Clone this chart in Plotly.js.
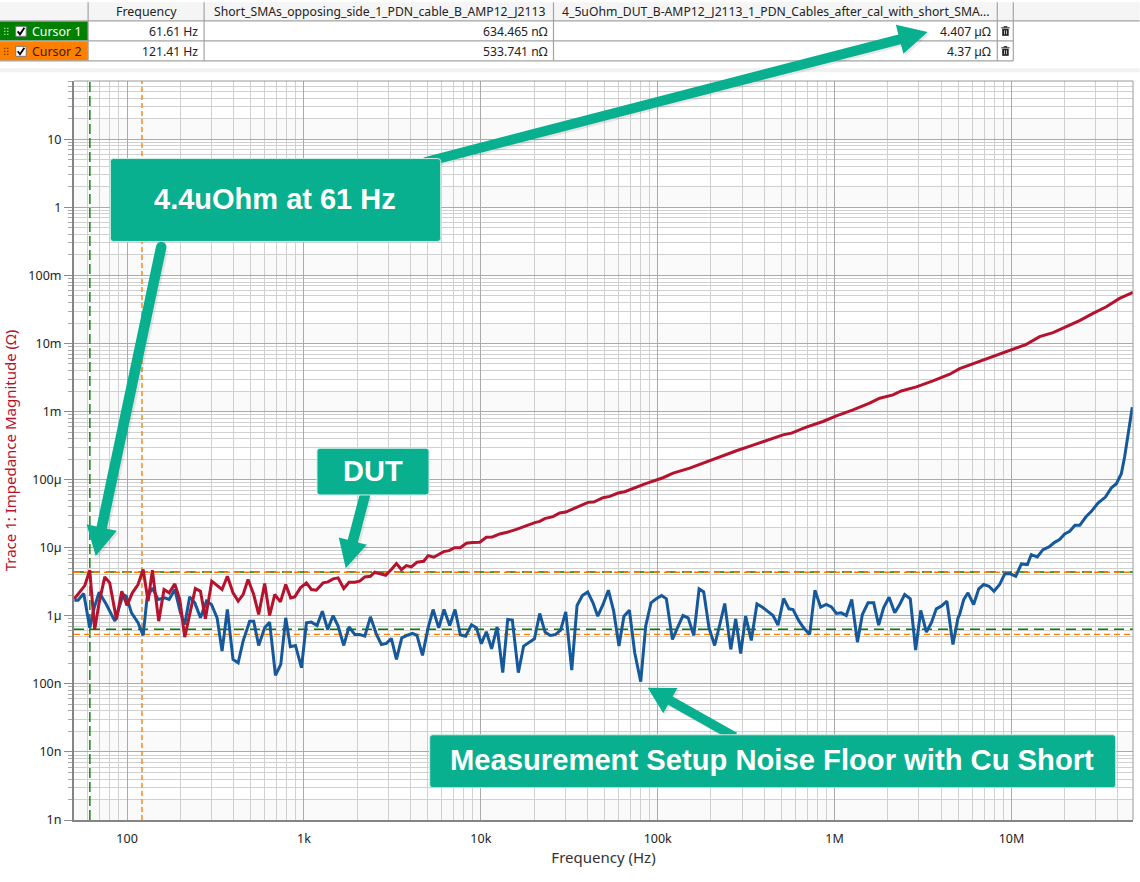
<!DOCTYPE html>
<html><head><meta charset="utf-8">
<script src="https://cdn.plot.ly/plotly-3.0.1.min.js"></script>
<style>html,body{margin:0;padding:0;background:#fff}#chart{width:1140px;height:882px}</style>
</head><body><div id="chart"></div>
<script>
// Values, as log10(Hz) and log10(ohm)
const blueLogHz = [1.702,1.723,1.755,1.789,1.814,1.842,1.883,1.931,1.978,1.996,2.025,2.062,2.091,2.113,2.143,2.175,2.213,2.238,2.270,2.302,2.326,2.354,2.383,2.415,2.449,2.477,2.509,2.537,2.567,2.599,2.628,2.656,2.693,2.716,2.744,2.778,2.806,2.839,2.869,2.897,2.923,2.952,2.986,3.014,3.042,3.074,3.104,3.134,3.165,3.193,3.225,3.255,3.287,3.315,
3.344,3.376,3.410,3.438,3.466,3.494,3.523,3.553,3.583,3.613,3.639,3.670,3.702,3.730,3.762,3.792,3.824,3.854,3.884,3.914,3.947,3.975,4.003,4.031,4.061,4.092,4.124,4.152,4.178,4.212,4.242,4.272,4.303,4.333,4.363,4.393,4.423,4.451,4.480,4.514,4.544,4.574,4.604,4.634,4.661,4.691,4.721,4.751,4.781,4.809,4.840,4.870,4.904,4.932,4.962,4.992,5.022,5.049,5.083,
5.124,5.143,5.172,5.204,5.234,5.260,5.290,5.322,5.351,5.379,5.413,5.441,5.469,5.497,5.529,5.561,5.592,5.624,5.652,5.680,5.712,5.742,5.765,5.799,5.825,5.859,5.889,5.921,5.953,5.982,6.010,6.038,6.066,6.097,6.129,6.157,6.189,6.221,6.249,6.277,6.308,6.340,6.368,6.396,6.428,6.458,6.487,6.519,6.547,6.575,6.603,6.635,6.669,6.698,
6.707,6.730,6.754,6.786,6.815,6.843,6.873,6.901,6.933,6.962,6.990,7.024,7.056,7.090,7.112,7.146,7.178,7.212,7.244,7.272,7.301,7.329,7.359,7.386,7.420,7.452,7.489,7.531,7.565,7.593,7.621,7.640,7.659,7.683];
const blueLogOhm = [-5.771,-5.771,-5.673,-6.177,-5.883,-5.654,-5.834,-6.079,-5.688,-5.712,-5.957,-6.103,-6.289,-5.737,-5.590,-5.761,-5.737,-5.761,-5.614,-5.957,-6.128,-5.722,-5.810,-6.030,-5.785,-5.834,-6.030,-6.519,-5.908,-6.641,-6.690,-6.372,-6.079,-6.079,-6.436,-6.177,-6.093,-6.876,-6.714,-6.030,-6.455,-6.436,-6.763,-6.103,-6.093,-6.142,-5.932,-6.201,-5.996,-6.152,-6.436,-6.162,-6.274,-6.274,
-6.299,-6.015,-6.274,-6.421,-6.406,-6.333,-6.641,-6.323,-6.289,-6.260,-6.289,-6.582,-6.177,-5.908,-6.177,-5.908,-6.142,-5.908,-6.279,-6.299,-6.133,-6.177,-6.411,-6.235,-6.485,-6.162,-6.836,-6.054,-6.064,-6.836,-6.445,-6.397,-6.338,-5.966,-6.240,-6.289,-6.274,-6.211,-5.942,-6.797,-5.849,-5.702,-5.649,-5.810,-6.006,-5.834,-5.624,-5.932,-6.445,-6.006,-5.918,-6.543,-6.968,-6.152,-5.810,-5.751,-5.702,-5.751,-6.348,
-6.103,-5.996,-6.030,-6.289,-5.605,-5.649,-6.177,-6.436,-6.128,-5.820,-6.494,-6.045,-6.553,-6.006,-6.362,-5.825,-5.874,-5.942,-5.996,-6.137,-5.746,-5.898,-5.908,-6.079,-6.177,-6.274,-5.624,-5.874,-5.834,-5.869,-5.966,-5.957,-5.996,-5.761,-6.387,-5.981,-5.810,-5.810,-6.137,-5.883,-5.727,-5.957,-5.834,-5.688,-5.751,-6.504,-5.922,-6.240,-6.103,-5.898,-5.859,-5.786,-6.421,-6.030,
-5.981,-5.761,-5.663,-5.835,-5.605,-5.541,-5.566,-5.639,-5.541,-5.385,-5.380,-5.419,-5.238,-5.248,-5.101,-5.136,-5.028,-4.989,-4.921,-4.881,-4.798,-4.759,-4.671,-4.671,-4.549,-4.466,-4.344,-4.256,-4.119,-4.060,-3.914,-3.659,-3.342,-2.936];
const redLogHz = [1.702,1.733,1.761,1.789,1.817,1.842,1.874,1.902,1.940,1.970,2.000,2.030,2.062,2.091,2.119,2.143,2.179,2.209,2.238,2.270,2.298,2.326,2.358,2.386,2.415,2.443,2.479,2.505,2.537,2.567,2.599,2.628,2.656,2.684,2.716,2.744,2.778,2.806,2.835,2.867,2.897,2.925,2.948,2.980,3.014,3.042,3.070,3.108,3.136,3.165,3.193,3.225,3.255,3.287,3.315,
3.344,3.376,3.400,3.428,3.462,3.494,3.523,3.551,3.579,3.607,3.639,
3.677,3.702,3.734,3.764,3.790,3.820,3.852,3.884,3.918,3.952,3.994,4.031,4.065,4.107,4.148,4.201,4.257,4.305,4.333,4.361,4.408,4.446,4.480,4.531,4.578,4.606,4.638,4.691,4.729,4.776,4.813,4.879,4.936,
5.030,5.087,5.181,5.256,5.350,5.445,5.539,5.614,5.708,5.756,5.840,5.934,6.010,6.104,6.198,
6.255,6.330,6.377,6.462,6.556,6.651,6.707,6.782,6.858,6.933,7.009,7.084,7.159,7.235,7.310,7.385,7.461,7.536,7.611,7.687];
const redLogOhm = [-5.751,-5.654,-5.556,-5.331,-6.201,-5.810,-5.429,-5.517,-6.054,-5.639,-5.849,-5.663,-5.541,-5.321,-5.785,-5.331,-6.079,-5.614,-5.663,-5.531,-5.761,-6.313,-5.932,-5.600,-5.639,-6.045,-5.492,-5.541,-5.614,-5.419,-5.663,-5.785,-5.688,-5.468,-5.688,-5.981,-5.526,-5.996,-5.688,-5.795,-5.541,-5.737,-5.722,-5.590,-5.517,-5.614,-5.624,-5.517,-5.502,-5.458,-5.443,-5.600,-5.507,-5.507,-5.492,
-5.429,-5.419,-5.360,-5.380,-5.404,-5.321,-5.233,-5.321,-5.262,-5.282,-5.214,
-5.199,-5.116,-5.140,-5.101,-5.057,-5.043,-4.999,-4.999,-4.935,-4.925,-4.920,-4.847,-4.842,-4.798,-4.774,-4.730,-4.671,-4.632,-4.613,-4.573,-4.544,-4.490,-4.476,-4.417,-4.368,-4.334,-4.329,-4.266,-4.246,-4.197,-4.178,-4.109,-4.055,
-3.972,-3.904,-3.831,-3.757,-3.660,-3.576,-3.493,-3.430,-3.342,-3.317,-3.229,-3.146,-3.063,-2.975,-2.877,
-2.804,-2.755,-2.697,-2.638,-2.550,-2.452,-2.369,-2.296,-2.227,-2.154,-2.081,-2.012,-1.900,-1.841,-1.753,-1.665,-1.558,-1.460,-1.338,-1.250];

const cursorHz = [61.61, 121.41];
const cursorShortOhm = [634.465e-9, 533.741e-9];
const cursorDutOhm = [4.407e-6, 4.37e-6];

const xTickVals = [100,1e3,1e4,1e5,1e6,1e7];
const xTickText = ['100','1k','10k','100k','1M','10M'];
const yTickVals = [1e-9,1e-8,1e-7,1e-6,1e-5,1e-4,1e-3,1e-2,1e-1,1,10];
const yTickText = ['1n','10n','100n','1µ','10µ','100µ','1m','10m','100m','1','10'];

const tableHeader = ['Frequency','Short_SMAs_opposing_side_1_PDN_cable_B_AMP12_J2113','4_5uOhm_DUT_B-AMP12_J2113_1_PDN_Cables_after_cal_with_short_SMA...'];
const cursorNames = ['Cursor 1','Cursor 2'];
const cursorFreqText = ['61.61 Hz','121.41 Hz'];
const cursorShortText = ['634.465 nΩ','533.741 nΩ'];
const cursorDutText = ['4.407 µΩ','4.37 µΩ'];
const calloutText = ['4.4uOhm at 61 Hz','DUT','Measurement Setup Noise Floor with Cu Short'];

// Layout geometry (page pixels)
const L=74.3,R=1133.3,T=80.7,B=820.3;
const px=X=>(X-L)/(R-L), py=Y=>(B-Y)/(B-T);
const UI='"Noto Sans", sans-serif';
const TEAL='#08b08f', BLUE='#15589b', RED='#b5122e', GREEN='#008000', ORANGE='#ff8000';
const xRange=[1.70,7.687], yRange=[-9,1.856];
const yLo=Math.pow(10,yRange[0]), yHi=Math.pow(10,yRange[1]);
const xLo=Math.pow(10,xRange[0]), xHi=Math.pow(10,xRange[1]);

const p10=a=>a.map(v=>Math.pow(10,v));
function minorVals(lo,hi){const o=[];for(let e=lo;e<=hi;e++)for(let d=2;d<=9;d++)o.push(d*Math.pow(10,e));return o;}

function hline(y,color,dash){return {x:[xLo,xHi],y:[y,y],mode:'lines',line:{color,width:1.4,dash},hoverinfo:'skip',showlegend:false};}
function vline(x,color,dash){return {x:[x,x],y:[yLo,yHi],mode:'lines',line:{color,width:1.4,dash},hoverinfo:'skip',showlegend:false};}
const traces=[
  vline(cursorHz[0],GREEN,'10px,4px'), vline(cursorHz[1],ORANGE,'5px,3px'),
  hline(cursorShortOhm[0],GREEN,'10px,6px'), hline(cursorDutOhm[0],GREEN,'10px,6px'),
  hline(cursorShortOhm[1],ORANGE,'6px,4px'), hline(cursorDutOhm[1],ORANGE,'6px,4px'),
  {name:tableHeader[1],x:p10(blueLogHz),y:p10(blueLogOhm),mode:'lines',line:{color:BLUE,width:3},showlegend:false},
  {name:tableHeader[2],x:p10(redLogHz),y:p10(redLogOhm),mode:'lines',line:{color:RED,width:3},showlegend:false}
];

const shapes=[], annotations=[];
function rectPx(x0,y0,x1,y1,fill,line,lw,layer){shapes.push({type:'rect',xref:'paper',yref:'paper',x0:px(x0),x1:px(x1),y0:py(y0),y1:py(y1),fillcolor:fill||'rgba(0,0,0,0)',line:{color:line||'rgba(0,0,0,0)',width:lw||0},layer:layer||'above'});}
function linePx(x0,y0,x1,y1,c,w){shapes.push({type:'line',xref:'paper',yref:'paper',x0:px(x0),x1:px(x1),y0:py(y0),y1:py(y1),line:{color:c,width:w||1},layer:'above'});}
function pathPx(pts,fill,opts){opts=opts||{};const d=pts.map((p,i)=>(i?'L':'M')+px(p[0]).toFixed(5)+','+py(p[1]).toFixed(5)).join(' ')+(opts.open?'':' Z');
  shapes.push({type:'path',xref:'paper',yref:'paper',path:d,fillcolor:fill||'rgba(0,0,0,0)',opacity:opts.opacity==null?1:opts.opacity,line:{color:opts.line||'rgba(0,0,0,0)',width:opts.lw||0},layer:'above'});}
function roundBox(x0,y0,x1,y1,r,fill,line){const f=(x,y)=>px(x).toFixed(5)+','+py(y).toFixed(5);
  const d=`M${f(x0+r,y0)} L${f(x1-r,y0)} Q${f(x1,y0)} ${f(x1,y0+r)} L${f(x1,y1-r)} Q${f(x1,y1)} ${f(x1-r,y1)} L${f(x0+r,y1)} Q${f(x0,y1)} ${f(x0,y1-r)} L${f(x0,y0+r)} Q${f(x0,y0)} ${f(x0+r,y0)} Z`;
  shapes.push({type:'path',xref:'paper',yref:'paper',path:d,fillcolor:fill,line:{color:line,width:1},layer:'above'});}
function text(t,X,Y,o){o=o||{};annotations.push({text:t,x:px(X),y:py(Y),xref:'paper',yref:'paper',showarrow:false,xanchor:o.a||'center',yanchor:'middle',borderpad:0,
  font:{family:o.f||UI,size:o.s||12,color:o.c||'#222',weight:o.w||'normal'}});}
function arrow(tx,ty,hx,hy,w,hl,hw){
  const len=Math.hypot(hx-tx,hy-ty),ux=(hx-tx)/len,uy=(hy-ty)/len,nx=-uy,ny=ux;
  const bx=hx-ux*hl,by=hy-uy*hl;
  const poly=dx=>[[tx+nx*w/2+dx,ty+ny*w/2+dx],[bx+nx*w/2+dx,by+ny*w/2+dx],[bx+nx*hw/2+dx,by+ny*hw/2+dx],[hx+dx,hy+dx],[bx-nx*hw/2+dx,by-ny*hw/2+dx],[bx-nx*w/2+dx,by-ny*w/2+dx],[tx-nx*w/2+dx,ty-ny*w/2+dx]];
  pathPx(poly(2),'#000',{opacity:.09});
  pathPx(poly(0),TEAL);
}

// 1x-2x bands behind the grid, through the y axis
for(let e=yRange[0];e<=1;e++){
  shapes.push({type:'rect',xref:'paper',yref:'y',x0:0,x1:1,y0:Math.pow(10,e),y1:2*Math.pow(10,e),fillcolor:'#fafafa',line:{width:0},layer:'below'});
}
// plot frame (thin top/right)
linePx(L,T,R,T,'#9a9a9a',1); linePx(R,T,R,B,'#9a9a9a',1);

// ---- cursor table above the plot ----
rectPx(0,2,1140,20.5,'#f5f5f5');
rectPx(0,68,1140,72,'#f1f1f1');
rectPx(0,21,88.4,40.5,GREEN);
rectPx(0,41,88.4,60.5,ORANGE);
const gridC='#a3a3a3';
linePx(0,20.5,1140,20.5,gridC,1.2); linePx(0,40.5,1013.6,40.5,gridC,1.2); linePx(0,60.5,1013.6,60.5,gridC,1.2);
[88.4,204.4,553.8,997.6,1013.6].forEach(x=>linePx(x,2,x,60.5,gridC,1.2));
text(tableHeader[0],147,11.5,{s:12.4});
text(tableHeader[1],379.5,11.5,{s:12.2});
text(tableHeader[2],776,11.5,{s:12.2});
[0,1].forEach(i=>{
  const cy=31+i*20;
  [4.5,7.5].forEach(x=>[-3.5,-0.5,2.5].forEach(d=>rectPx(x,cy+d,x+1.2,cy+d+1.2,i?'#5a3000':'#cfe8cf')));
  rectPx(16,cy-5,26.5,cy+5,'#fff','#777',1);
  pathPx([[18,cy],[20.3,cy+3],[24.7,cy-3.5]],null,{open:true,line:'#000',lw:1.8});
  text(cursorNames[i],31,cy,{a:'left',c:i?'#3a1d00':'#fff',s:12.4});
  text(cursorFreqText[i],199,cy,{a:'right',s:12.2});
  text(cursorShortText[i],549,cy,{a:'right',s:12.2});
  text(cursorDutText[i],992.5,cy,{a:'right',s:12.2});
  // trash icon
  rectPx(1002.5,cy-2.5,1009,cy+4.5,'#222');
  rectPx(1001.5,cy-4,1010,cy-3,'#222');
  rectPx(1004,cy-5.2,1007.5,cy-4,'#222');
  rectPx(1004.3,cy-1,1005,cy+3,'#fff'); rectPx(1006.5,cy-1,1007.2,cy+3,'#fff');
});

// ---- callouts ----
arrow(425,162,928,31.7,10,29,30);
arrow(161.5,247,96,556,10.5,29,31);
shapes.push({type:'circle',xref:'paper',yref:'paper',x0:px(156.3),x1:px(166.8),y0:py(241.5),y1:py(252),fillcolor:TEAL,line:{width:0},layer:'above'});
arrow(365.5,494,346,568.3,10.5,28,29);
arrow(735,737,648,688,9.5,26,29);
roundBox(110.7,158.3,441,241.3,3,TEAL,'#cfeee7');
roundBox(317.3,448.3,429.3,495,3,TEAL,'#cfeee7');
roundBox(430,735,1116,788,3,TEAL,'#cfeee7');
const CF='"Liberation Sans", Arial, sans-serif';
text(calloutText[0],275,199,{f:CF,s:29,c:'#fff',w:'bold'});
text(calloutText[1],373,471,{f:CF,s:29,c:'#fff',w:'bold'});
text(calloutText[2],772,760,{f:CF,s:29.2,c:'#fff',w:'bold'});

const layout={
  width:1140,height:882,autosize:false,showlegend:false,hovermode:false,
  margin:{l:L,r:1140-R,t:T,b:882-B,pad:0},
  paper_bgcolor:'#fff',plot_bgcolor:'#fff',
  font:{family:UI,size:12,color:'#222'},
  xaxis:{type:'log',range:xRange,tickmode:'array',tickvals:xTickVals,ticktext:xTickText,ticks:'',ticklabelstandoff:6,
    showgrid:true,gridcolor:'#aaaaaa',gridwidth:1,showline:true,linecolor:'#858585',linewidth:2,zeroline:false,
    tickfont:{family:UI,size:12.5,color:'#222'},
    minor:{tickmode:'array',tickvals:minorVals(1,7),showgrid:true,gridcolor:'#d0d0d0',gridwidth:1,ticks:''},
    title:{text:'Frequency (Hz)',font:{family:UI,size:15,color:'#333'},standoff:6}},
  yaxis:{type:'log',range:yRange,tickmode:'array',tickvals:yTickVals,ticktext:yTickText,ticks:'outside',ticklen:8,tickcolor:'#8c8c8c',tickwidth:1,
    showgrid:true,gridcolor:'#aaaaaa',gridwidth:1,showline:true,linecolor:'#858585',linewidth:2,zeroline:false,
    tickfont:{family:UI,size:12.5,color:'#222'},
    minor:{tickmode:'array',tickvals:minorVals(-9,1),showgrid:true,gridcolor:'#d0d0d0',gridwidth:1,ticks:'outside',ticklen:4,tickcolor:'#a8a8a8'},
    title:{text:'Trace 1: Impedance Magnitude (Ω)',font:{family:UI,size:15,color:RED},standoff:10}},
  shapes,annotations
};
Plotly.newPlot('chart',traces,layout,{displayModeBar:false,staticPlot:true});
</script></body></html>
